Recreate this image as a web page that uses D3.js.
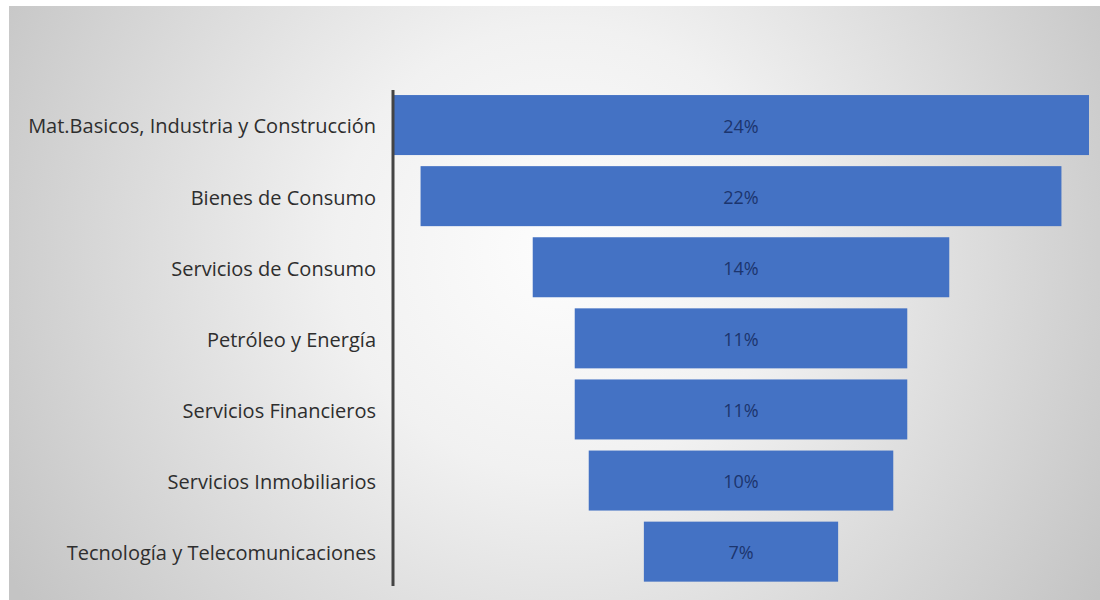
<!DOCTYPE html>
<html>
<head>
<meta charset="utf-8">
<script src="https://cdn.jsdelivr.net/npm/d3@7"></script>
<style>
  html, body { margin: 0; padding: 0; background: #ffffff; }
  svg { display: block; }
</style>
</head>
<body>
<svg id="chart" width="1100" height="600"></svg>
<script>
// Sector weights (share of portfolio), top to bottom
const sectors = [
  "Mat.Basicos, Industria y Construcción",
  "Bienes de Consumo",
  "Servicios de Consumo",
  "Petróleo y Energía",
  "Servicios Financieros",
  "Servicios Inmobiliarios",
  "Tecnología y Telecomunicaciones"
];
const weights = [0.2386, 0.2197, 0.1428, 0.1140, 0.1140, 0.1044, 0.0666];

const svg = d3.select("#chart");
const W = 1100, H = 600;

// Panel background: soft radial fade from white to grey
const defs = svg.append("defs");
const grad = defs.append("radialGradient")
  .attr("id", "bg")
  .attr("gradientUnits", "userSpaceOnUse")
  .attr("cx", 560).attr("cy", 250).attr("r", 640);
grad.append("stop").attr("offset", "0%").attr("stop-color", "#fdfdfd");
grad.append("stop").attr("offset", "35%").attr("stop-color", "#f1f1f1");
grad.append("stop").attr("offset", "100%").attr("stop-color", "#c4c4c4");

svg.append("rect")
  .attr("x", 9).attr("y", 6)
  .attr("width", W - 9).attr("height", H - 6)
  .attr("fill", "url(#bg)");

// Funnel: bars centred on a common axis
const centerX = 741;
const axisX = 393;

const width = d3.scaleLinear()
  .domain([0, d3.max(weights)])
  .range([0, 2 * (centerX - axisX)]);

const y = d3.scaleBand()
  .domain(sectors)
  .range([89.5, 587.2])
  .paddingInner(0.156)
  .paddingOuter(0.078);

const rows = sectors.map((s, i) => ({ sector: s, value: weights[i] }));

svg.append("g")
  .selectAll("rect")
  .data(rows)
  .join("rect")
  .attr("x", d => centerX - width(d.value) / 2)
  .attr("y", d => y(d.sector))
  .attr("width", d => width(d.value))
  .attr("height", y.bandwidth())
  .attr("fill", "#4472c4");

// Value labels in the middle of each bar
const fmt = d3.format(".0%");
svg.append("g")
  .selectAll("text")
  .data(rows)
  .join("text")
  .attr("x", centerX)
  .attr("y", d => y(d.sector) + y.bandwidth() / 2 + 1)
  .attr("dy", "0.36em")
  .attr("text-anchor", "middle")
  .attr("font-family", "'Open Sans', sans-serif")
  .attr("font-size", 18)
  .attr("fill", "#1c356e")
  .text(d => fmt(d.value));

// Category axis on the left
const axis = d3.axisLeft(y).tickSize(0).tickPadding(17);
const gAxis = svg.append("g")
  .attr("transform", `translate(${axisX},2)`)
  .call(axis);
gAxis.select(".domain").remove();
gAxis.selectAll("text")
  .attr("font-family", "'Open Sans', sans-serif")
  .attr("font-size", 20)
  .attr("fill", "#2e2e2e");

svg.append("line")
  .attr("x1", axisX).attr("x2", axisX)
  .attr("y1", 90).attr("y2", 586)
  .attr("stroke", "#444444")
  .attr("stroke-width", 3);
</script>
</body>
</html>
